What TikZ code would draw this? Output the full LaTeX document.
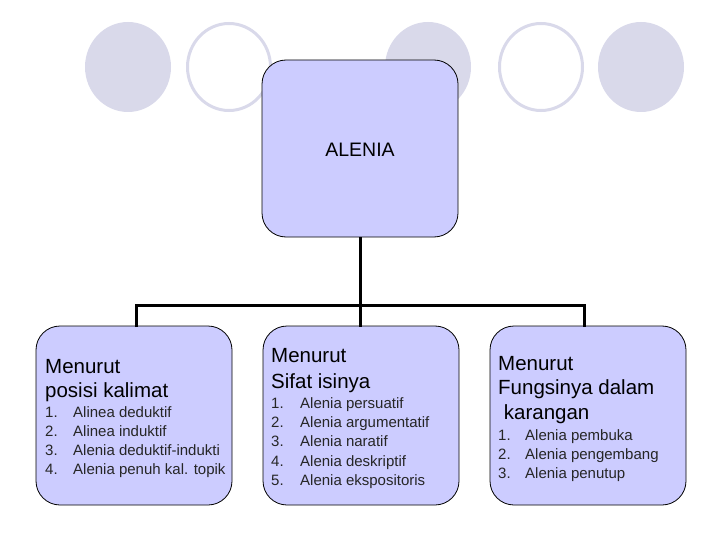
\documentclass[tikz,border=0pt]{standalone}
\usepackage{fontspec}
\setmainfont{Liberation Sans}
\definecolor{boxfill}{HTML}{CCCCFF}
\definecolor{dec}{HTML}{D9D9EA}
\begin{document}
\begin{tikzpicture}[x=1pt,y=-1pt,
  box/.style={draw=black,line width=0.8pt,fill=boxfill,rounded corners=24pt},
  conn/.style={line width=3pt,black},
  head/.style={anchor=base west,inner sep=0pt,font=\fontsize{20.5}{22}\selectfont},
  item/.style={anchor=base west,inner sep=0pt,font=\fontsize{15}{17}\selectfont,text=black!85},
  dfill/.style={fill=dec},
  dring/.style={draw=dec,line width=3pt}]
\useasboundingbox (0,0) rectangle (720,540);
% decorative ellipses
\fill[dfill] (128,67) ellipse [x radius=43,y radius=45];
\draw[dring] (229,67) ellipse [x radius=41.5,y radius=43.5];
\fill[dfill] (428,67) ellipse [x radius=43,y radius=45];
\draw[dring] (541,67) ellipse [x radius=41.5,y radius=43.5];
\fill[dfill] (641,67) ellipse [x radius=43,y radius=45];
% boxes
\draw[box] (262,60) rectangle (458,237);
\node[anchor=base,inner sep=0pt,font=\fontsize{19.5}{21}\selectfont] (top) at (360,157) {ALENIA};
\coordinate (tb) at (360,237);
\draw[box] (36,326) rectangle (232,505);
\draw[box] (263,326) rectangle (459,505);
\draw[box] (490,326) rectangle (686,505);
\coordinate (lt) at (136,327);
\coordinate (mt) at (360,327);
\coordinate (rt) at (584,327);
\coordinate (jn) at (360,305);
\coordinate (jl) at (136,305);
\coordinate (jr) at (584,305);
% connectors
\draw[conn] (tb) -- (jn);
\draw[conn] (lt) -- (jl) -- (jr) -- (rt);
\draw[conn] (jn) -- (mt);
% left box text
\node[head] (l1) at (45,373) {Menurut};
\node[head] (l2) at (45,397) {posisi kalimat};
\node[item] (l3n) at (45,417) {1.};
\node[item] (l3) at (73,417) {Alinea deduktif};
\node[item] (l4n) at (45,436) {2.};
\node[item] (l4) at (73,436) {Alinea induktif};
\node[item] (l5n) at (45,455) {3.};
\node[item] (l5) at (73,455) {Alenia deduktif-indukti};
\node[item] (l6n) at (45,474) {4.};
\node[item] (l6) at (73,474) {Alenia penuh kal. topik};
% middle box text
\node[head] (m1) at (271,362) {Menurut};
\node[head] (m2) at (271,388) {Sifat isinya};
\node[item] (m3n) at (271,408) {1.};
\node[item] (m3) at (300,408) {Alenia persuatif};
\node[item] (m4n) at (271,427) {2.};
\node[item] (m4) at (300,427) {Alenia argumentatif};
\node[item] (m5n) at (271,446) {3.};
\node[item] (m5) at (300,446) {Alenia naratif};
\node[item] (m6n) at (271,466) {4.};
\node[item] (m6) at (300,466) {Alenia deskriptif};
\node[item] (m7n) at (271,485) {5.};
\node[item] (m7) at (300,485) {Alenia ekspositoris};
% right box text
\node[head] (r1) at (498,370) {Menurut};
\node[head] (r2) at (498,394) {Fungsinya dalam};
\node[head] (r3) at (498,419) {\ karangan};
\node[item] (r4n) at (498,440) {1.};
\node[item] (r4) at (525,440) {Alenia pembuka};
\node[item] (r5n) at (498,459) {2.};
\node[item] (r5) at (525,459) {Alenia pengembang};
\node[item] (r6n) at (498,478) {3.};
\node[item] (r6) at (525,478) {Alenia penutup};
\end{tikzpicture}
\end{document}
